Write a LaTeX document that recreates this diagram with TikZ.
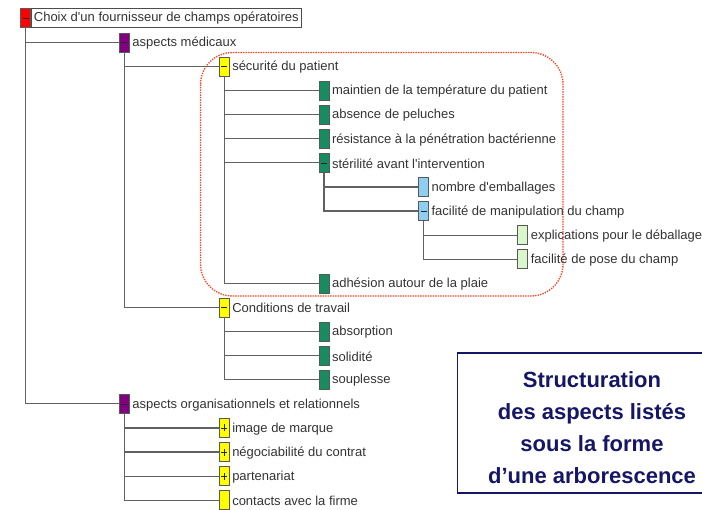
\documentclass[tikz,border=0pt]{standalone}
\usepackage{fontspec}
\setmainfont{Liberation Sans}[Ligatures=TeXOff]
\usetikzlibrary{positioning}

\definecolor{cRouge}{HTML}{FF0000}
\definecolor{cPourpre}{HTML}{800080}
\definecolor{cJaune}{HTML}{FFFF00}
\definecolor{cVert}{HTML}{178C60}
\definecolor{cBleu}{HTML}{8CCFF2}
\definecolor{cVertClair}{HTML}{DAF7CC}
\definecolor{cPointille}{HTML}{FF4422}
\definecolor{cMarine}{HTML}{161666}

\begin{document}
\begin{tikzpicture}[x=1pt, y=-1pt,
    every node/.style={font=\fontsize{13}{15}\selectfont, text=black!80},
    case/.style={draw=black!65, line width=0.7pt, minimum width=10pt, minimum height=19pt, inner sep=0pt},
    ouvert/.style={path picture={\draw[black!85, line width=0.7pt] ([xshift=-3pt]path picture bounding box.center) -- ([xshift=3pt]path picture bounding box.center);}},
    ferme/.style={path picture={\draw[black!85, line width=0.7pt] ([xshift=-3pt]path picture bounding box.center) -- ([xshift=3pt]path picture bounding box.center)
        ([yshift=-3.5pt]path picture bounding box.center) -- ([yshift=3.5pt]path picture bounding box.center);}},
    lib/.style={anchor=west, inner sep=1.5pt, yshift=-0.8pt},
    lien/.style={draw=black!62, line width=1.2pt}]
  \useasboundingbox (0,0) rectangle (702,510);

  % zone en pointilles
  \draw[cPointille, dash pattern=on 1.3pt off 1.2pt, line width=1.4pt, rounded corners=32pt] (200.5,52.5) rectangle (563,296);

  % racine
  \node[case, ouvert, fill=cRouge] (choix) at (25.7,18.3) {};
  \node[anchor=west, draw=black!70, line width=0.7pt, minimum height=19pt, inner xsep=2.5pt, inner ysep=1.5pt, right=0pt of choix] (choixT) {Choix d'un fournisseur de champs opératoires\hspace{2pt}};

  % niveau 1
  \node[case, ouvert, fill=cPourpre] (medic) at (124.3,42.4) {};
  \node[lib, right=1pt of medic] (medicT) {aspects médicaux};
  \node[case, ouvert, fill=cPourpre] (orga) at (124.3,403.9) {};
  \node[lib, right=1pt of orga] (orgaT) {aspects organisationnels et relationnels};

  % niveau 2
  \node[case, ouvert, fill=cJaune] (secu) at (224.2,66.5) {};
  \node[lib, right=1pt of secu] (secuT) {sécurité du patient};
  \node[case, ouvert, fill=cJaune] (cond) at (224.2,307.5) {};
  \node[lib, right=1pt of cond] (condT) {Conditions de travail};
  \node[case, ferme, fill=cJaune] (image) at (224.2,428.0) {};
  \node[lib, right=1pt of image] (imageT) {image de marque};
  \node[case, ferme, fill=cJaune] (nego) at (224.2,452.1) {};
  \node[lib, right=1pt of nego] (negoT) {négociabilité du contrat};
  \node[case, ferme, fill=cJaune] (parte) at (224.2,476.2) {};
  \node[lib, right=1pt of parte] (parteT) {partenariat};
  \node[case, fill=cJaune] (contact) at (224.2,500.3) {};
  \node[lib, right=1pt of contact] (contactT) {contacts avec la firme};

  % niveau 3
  \node[case, fill=cVert] (temp) at (324,90.6) {};
  \node[lib, right=1pt of temp] (tempT) {maintien de la température du patient};
  \node[case, fill=cVert] (peluche) at (324,114.7) {};
  \node[lib, right=1pt of peluche] (pelucheT) {absence de peluches};
  \node[case, fill=cVert] (bact) at (324,138.8) {};
  \node[lib, right=1pt of bact] (bactT) {résistance à la pénétration bactérienne};
  \node[case, ouvert, fill=cVert] (steril) at (324,162.9) {};
  \node[lib, right=1pt of steril] (sterilT) {stérilité avant l'intervention};
  \node[case, fill=cVert] (plaie) at (324,283.4) {};
  \node[lib, right=1pt of plaie] (plaieT) {adhésion autour de la plaie};
  \node[case, fill=cVert] (absorp) at (324,331.6) {};
  \node[lib, right=1pt of absorp] (absorpT) {absorption};
  \node[case, fill=cVert] (solide) at (324,355.7) {};
  \node[lib, right=1pt of solide] (solideT) {solidité};
  \node[case, fill=cVert] (souple) at (324,379.8) {};
  \node[lib, right=1pt of souple] (soupleT) {souplesse};

  % niveau 4
  \node[case, fill=cBleu] (emball) at (423.5,187.0) {};
  \node[lib, right=1pt of emball] (emballT) {nombre d'emballages};
  \node[case, ouvert, fill=cBleu] (manip) at (423.5,211.1) {};
  \node[lib, right=1pt of manip] (manipT) {facilité de manipulation du champ};

  % niveau 5
  \node[case, fill=cVertClair] (explic) at (522.8,235.2) {};
  \node[lib, right=1pt of explic] (explicT) {explications pour le déballage};
  \node[case, fill=cVertClair] (pose) at (522.8,259.3) {};
  \node[lib, right=1pt of pose] (poseT) {facilité de pose du champ};

  % liens
  \draw[lien] (choix.south) |- (medic.west);
  \draw[lien] (choix.south) |- (orga.west);
  \draw[lien] (medic.south) |- (secu.west);
  \draw[lien] (medic.south) |- (cond.west);
  \draw[lien] (secu.south) |- (temp.west);
  \draw[lien] (secu.south) |- (peluche.west);
  \draw[lien] (secu.south) |- (bact.west);
  \draw[lien] (secu.south) |- (steril.west);
  \draw[lien] (secu.south) |- (plaie.west);
  \draw[lien] (steril.south) |- (emball.west);
  \draw[lien] (steril.south) |- (manip.west);
  \draw[lien] (manip.south) |- (explic.west);
  \draw[lien] (manip.south) |- (pose.west);
  \draw[lien] (cond.south) |- (absorp.west);
  \draw[lien] (cond.south) |- (solide.west);
  \draw[lien] (cond.south) |- (souple.west);
  \draw[lien] (orga.south) |- (image.west);
  \draw[lien] (orga.south) |- (nego.west);
  \draw[lien] (orga.south) |- (parte.west);
  \draw[lien] (orga.south) |- (contact.west);

  % encadre
  \coordinate (cadreHD) at (703,353);
  \coordinate (cadreBD) at (703,493);
  \draw[cMarine, line width=1.3pt] (cadreHD) -- (457.5,353) -- (457.5,493) -- (cadreBD);
  \node[font=\fontsize{22}{32}\selectfont\bfseries, text=cMarine, align=center] (titre) at (592,428)
    {Structuration\\des aspects listés\\sous la forme\\d’une arborescence};
\end{tikzpicture}
\end{document}
